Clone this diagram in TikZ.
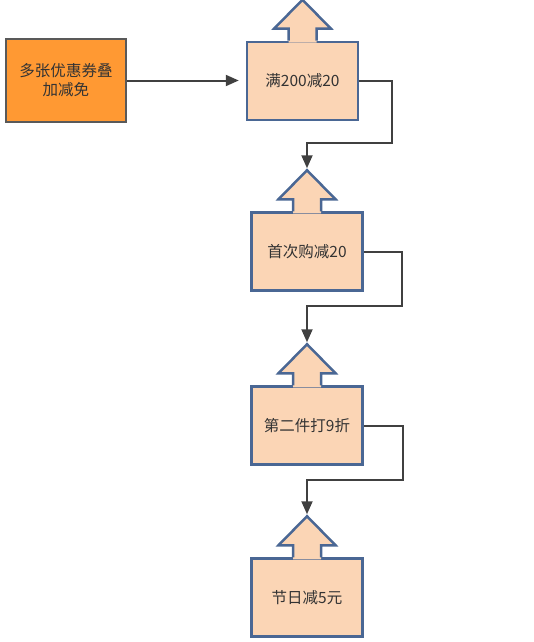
\documentclass[tikz,border=0pt]{standalone}
\usepackage{fontspec}
\setmainfont{Noto Sans CJK SC}
\usetikzlibrary{positioning, arrows.meta, calc}
\definecolor{peach}{HTML}{FBD5B5}
\definecolor{ruleblue}{HTML}{4A6794}
\definecolor{couponorange}{HTML}{FF9933}
\definecolor{edgegray}{HTML}{404040}
\tikzstyle{arrow} = [line width=2pt,draw=edgegray,-{Triangle[length=13pt,width=11pt]}]

\begin{document}
\begin{tikzpicture}[x=1pt,y=-1pt]
                    \tikzstyle{every node}=[font=\fontsize{15.5}{19}\selectfont,text=black!80]
                    \tikzstyle{coupon} = [rectangle, draw=black!65, fill=couponorange, line width=2.5pt, minimum width=120pt, minimum height=83pt, align=center]
                    \tikzstyle{rule} = [rectangle, draw=ruleblue, fill=peach, line width=2.5pt, minimum width=111pt, minimum height=78pt]
                    \useasboundingbox (0,0) rectangle (533,642);

                    \node[coupon](c1) at (66,80.5) {多张优惠券叠\\加减免};
                    \node[rule](b2) at (302.5,81) {满200减20};
                    \node[rule](b3) at (307,251.5) {首次购减20};
                    \node[rule](b4) at (307,425.5) {第二件打9折};
                    \node[rule](b5) at (307,597.5) {节日减5元};

                    % arrow heads on top of the rule boxes
                    \foreach \i in {2,...,5} {
                        \coordinate (b\i-tip) at ($(b\i.north)+(0,-41)$);
                        \fill[peach] ($(b\i.north)+(-14,2)$) -- ++(0,-14) -- ++(-14.5,0) -- (b\i-tip)
                            -- ($(b\i.north)+(28.5,-12)$) -- ++(-14.5,0) -- ++(0,14) -- cycle;
                        \draw[ruleblue, line width=2.5pt] ($(b\i.north)+(-14,0)$) -- ++(0,-12) -- ++(-14.5,0) -- (b\i-tip)
                            -- ($(b\i.north)+(28.5,-12)$) -- ++(-14.5,0) -- ++(0,12);
                    }

                    \draw[arrow, shorten >=7pt] (c1.east) -- (c1.east -| b2.west);
                    \foreach \a/\b/\dx/\dy in {2/3/33/27, 3/4/38/38, 4/5/39/36}
                        \draw[arrow, shorten >=2pt] (b\a.east) -- ++(\dx,0) |- ($(b\b-tip)+(0,-\dy)$) -- (b\b-tip);

\end{tikzpicture}
\end{document}
